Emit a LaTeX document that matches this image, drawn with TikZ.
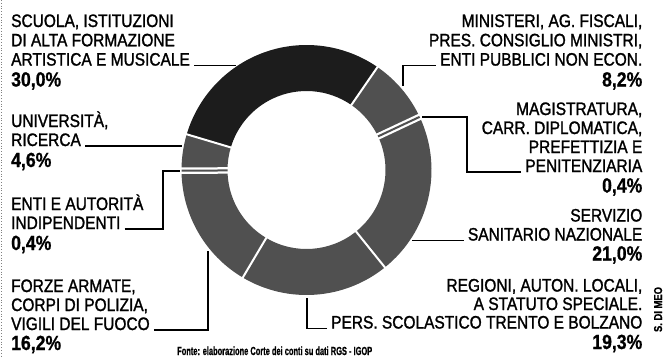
\documentclass[tikz,border=0pt]{standalone}
\usepackage{fontspec}
\setmainfont{Liberation Sans}[FakeStretch=0.86]
\newfontfamily\labfont{Liberation Sans}[FakeStretch=0.86, FakeBold=1.4]
\newfontfamily\pctfont{Liberation Sans Bold}[FakeStretch=0.86, FakeBold=0.8]
\definecolor{darkseg}{HTML}{1C1C1C}
\definecolor{midseg}{HTML}{505050}
\tikzset{
  lab/.style={inner sep=0pt, font=\fontsize{18}{19}\selectfont\labfont},
  pct/.style={inner sep=0pt, font=\fontsize{20.5}{21}\selectfont\pctfont},
  leader/.style={draw=black, line width=1.1pt},
  sep/.style={draw=white, line width=2pt},
}
\begin{document}
\begin{tikzpicture}[x=1pt, y=-1pt]
\useasboundingbox (0,0) rectangle (668,356);
\fill[white] (0,0) rectangle (668,356);
\draw[gray, dotted, line width=0.8pt] (1,0) -- (1,356);

% donut
\begin{scope}[shift={(306.5,170)}, yscale=-1]
  \foreach \a/\b/\c in {163.4/55.4/darkseg, 55.4/24.44/midseg, 24.44/-51.16/midseg,
      -51.16/-120.64/midseg, -120.64/-180.4/midseg, -180.4/-196.6/midseg}
    \fill[\c] (\a:125) arc[start angle=\a, end angle=\b, radius=125]
      -- (\b:79) arc[start angle=\b, end angle=\a, radius=79] -- cycle;
  \foreach \a in {163.4, 55.4, -51.16, -120.64}
    \draw[sep] (\a:77) -- (\a:127);
  \foreach \a in {25.16, -179.68} {
    \draw[draw=white, line width=6.5pt] (\a:77) -- (\a:127);
    \draw[draw=midseg, line width=2pt] (\a:79) -- (\a:125);
  }
\end{scope}

% top left
\node[lab, anchor=base west] (s1) at (11,27) {SCUOLA, ISTITUZIONI};
\node[lab, anchor=base west] (s2) at (11,46.3) {DI ALTA FORMAZIONE};
\node[lab, anchor=base west] (s3) at (11,65.6) {ARTISTICA E MUSICALE};
\node[pct, anchor=base west] (sp) at (11,86.5) {30,0\%};

% top right
\node[lab, anchor=base east] (m1) at (642.5,27) {MINISTERI, AG. FISCALI,};
\node[lab, anchor=base east] (m2) at (642.5,46.3) {PRES. CONSIGLIO MINISTRI,};
\node[lab, anchor=base east] (m3) at (642.5,65.6) {ENTI PUBBLICI NON ECON.};
\node[pct, anchor=base east] (mp) at (642.5,86.5) {8,2\%};

% magistratura
\node[lab, anchor=base east] (g1) at (642.5,115) {MAGISTRATURA,};
\node[lab, anchor=base east] (g2) at (642.5,134) {CARR. DIPLOMATICA,};
\node[lab, anchor=base east] (g3) at (642.5,153) {PREFETTIZIA E};
\node[lab, anchor=base east] (g4) at (642.5,172) {PENITENZIARIA};
\node[pct, anchor=base east] (gp) at (642.5,192.5) {0,4\%};

% servizio sanitario
\node[lab, anchor=base east] (v1) at (642.5,221.5) {SERVIZIO};
\node[lab, anchor=base east] (v2) at (642.5,240.5) {SANITARIO NAZIONALE};
\node[pct, anchor=base east] (vp) at (642.5,260.5) {21,0\%};

% regioni
\node[lab, anchor=base east] (r1) at (642.5,291.5) {REGIONI, AUTON. LOCALI,};
\node[lab, anchor=base east] (r2) at (642.5,310) {A STATUTO SPECIALE.};
\node[lab, anchor=base east] (r3) at (642.5,328.5) {PERS. SCOLASTICO TRENTO E BOLZANO};
\node[pct, anchor=base east] (rp) at (642.5,349) {19,3\%};

% universita
\node[lab, anchor=base west] (u1) at (11,127) {UNIVERSITÀ,};
\node[lab, anchor=base west] (u2) at (11,146) {RICERCA};
\node[pct, anchor=base west] (up) at (11,167) {4,6\%};

% enti e autorita
\node[lab, anchor=base west] (e1) at (11,210) {ENTI E AUTORITÀ};
\node[lab, anchor=base west] (e2) at (11,229) {INDIPENDENTI};
\node[pct, anchor=base west] (ep) at (11,250) {0,4\%};

% forze armate
\node[lab, anchor=base west] (f1) at (11,292) {FORZE ARMATE,};
\node[lab, anchor=base west] (f2) at (11,311) {CORPI DI POLIZIA,};
\node[lab, anchor=base west] (f3) at (11,330) {VIGILI DEL FUOCO};
\node[pct, anchor=base west] (fp) at (11,350) {16,2\%};

% leader coordinates
\coordinate (cS) at (236,65.6);
\coordinate (cM1) at (403,65.6);
\coordinate (cM2) at (403,86);
\coordinate (cG1) at (467,172);
\coordinate (cG2) at (467,117);
\coordinate (cG3) at (422,117);
\coordinate (cV) at (412,240.5);
\coordinate (cR1) at (307,328.5);
\coordinate (cR2) at (307,298);
\coordinate (cF1) at (208,330);
\coordinate (cF2) at (208,251);
\coordinate (cE1) at (163,229);
\coordinate (cE2) at (163,171);
\coordinate (cE3) at (180,171);
\coordinate (cU) at (182,146);

\draw[leader] ([xshift=4pt]s3.base east) -- (cS);
\draw[leader] ([xshift=-4pt]m3.base west) -- (cM1) -- (cM2);
\draw[leader] ([xshift=-4pt]g4.base west) -- (cG1) -- (cG2) -- (cG3);
\draw[leader] ([xshift=-4pt]v2.base west) -- (cV);
\draw[leader] ([xshift=-4pt]r3.base west) -- (cR1) -- (cR2);
\draw[leader] ([xshift=4pt]f3.base east) -- (cF1) -- (cF2);
\draw[leader] ([xshift=4pt]e2.base east) -- (cE1) -- (cE2) -- (cE3);
\draw[leader] ([xshift=4pt]u2.base east) -- (cU);

% footer and credit
\node[inner sep=0pt, anchor=base west] (fonte) at (177,355)
  {\resizebox{195pt}{8.5pt}{\pctfont Fonte: elaborazione Corte dei conti su dati RGS - IGOP}};
\node[inner sep=0pt, anchor=base, rotate=90] (credit) at (662,309.5)
  {\resizebox{45pt}{8pt}{\pctfont S. DI MEO}};
\end{tikzpicture}
\end{document}
